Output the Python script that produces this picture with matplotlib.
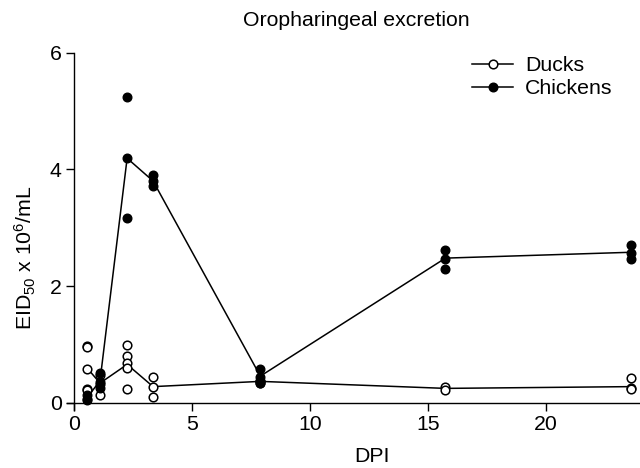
import matplotlib
matplotlib.use("Agg")
import matplotlib.pyplot as plt
from matplotlib.lines import Line2D

plt.rcParams['font.family'] = ['Liberation Sans', 'DejaVu Sans']
plt.rcParams['mathtext.fontset'] = 'custom'
plt.rcParams['mathtext.rm'] = 'Liberation Sans'
plt.rcParams['mathtext.it'] = 'Liberation Sans:italic'

# x positions of sampling days as read against the axis scale
dpi_pos = [0.55, 1.1, 2.25, 3.35, 7.9, 15.75, 23.6]

# individual measurements (EID50 x 10^6/mL)
ducks_pts = [
    [0.98, 0.96, 0.59, 0.24, 0.22],
    [0.14, 0.33, 0.48],
    [0.99, 0.80, 0.68, 0.60, 0.24],
    [0.45, 0.27, 0.11],
    [0.34, 0.37, 0.38],
    [0.28, 0.22],
    [0.42, 0.26, 0.24],
]
chickens_pts = [
    [0.14, 0.07, 0.05],
    [0.52, 0.36, 0.25],
    [5.24, 4.19, 3.16],
    [3.90, 3.80, 3.71],
    [0.58, 0.45, 0.35],
    [2.62, 2.46, 2.29],
    [2.70, 2.57, 2.46],
]
# mean lines
ducks_mean = [0.60, 0.34, 0.66, 0.28, 0.37, 0.25, 0.28]
chickens_mean = [0.09, 0.38, 4.19, 3.80, 0.46, 2.48, 2.58]

yticks = [0, 2, 4, 6]
xticks = [0, 5, 10, 15, 20]

W, H = 640, 468
fig = plt.figure(figsize=(6.4, 4.68), dpi=100)
# axes box in pixels: x 67..640, y 52..410
ax = fig.add_axes([67 / W, (H - 410) / H, (640 - 67) / W, (410 - 52.5) / H])

fs = 15.3
ms = 6.2
lw = 1.1
ax.plot(dpi_pos, ducks_mean, color='black', lw=lw, zorder=2, clip_on=False)
ax.plot(dpi_pos, chickens_mean, color='black', lw=lw, zorder=2, clip_on=False)
for x, vals in zip(dpi_pos, ducks_pts):
    ax.plot([x] * len(vals), vals, linestyle='none', marker='o', ms=ms,
            mfc='white', mec='black', mew=1.1, zorder=3, clip_on=False)
for x, vals in zip(dpi_pos, chickens_pts):
    ax.plot([x] * len(vals), vals, linestyle='none', marker='o', ms=ms,
            mfc='black', mec='black', mew=1.0, zorder=4, clip_on=False)

ax.set_xlim(-0.3, 24.0)
ax.set_ylim(-0.12, 6)
ax.spines['left'].set_position(('data', 0))
ax.spines['bottom'].set_position(('data', 0))
ax.spines['top'].set_visible(False)
ax.spines['right'].set_visible(False)
for s in ('left', 'bottom'):
    ax.spines[s].set_linewidth(1.0)
ax.set_xticks(xticks)
ax.set_yticks(yticks)
ax.tick_params(axis='both', direction='out', length=6, width=1.0,
               labelsize=fs, pad=3)

fig.text(356 / W, 1 - 20 / H, 'Oropharingeal excretion', fontsize=fs,
         ha='center', va='center')
fig.text(372 / W, 2 / H, 'DPI', fontsize=fs, ha='center', va='bottom')
fig.text(25 / W, 1 - 258 / H, r'EID$_{50}$ x 10$^{6}$/mL', fontsize=fs,
         ha='center', va='center', rotation=90)

handles = [
    Line2D([], [], color='black', lw=lw, marker='o', ms=ms, mfc='white', mec='black', mew=1.1),
    Line2D([], [], color='black', lw=lw, marker='o', ms=ms, mfc='black', mec='black'),
]
fig.legend(handles, ['Ducks', 'Chickens'], loc='upper left', frameon=False,
           fontsize=fs, handlelength=1.95, handletextpad=0.55, labelspacing=0.2,
           borderpad=0, borderaxespad=0,
           bbox_to_anchor=(472 / W, 1 - 56 / H), bbox_transform=fig.transFigure)

fig.savefig('out.png', dpi=100)
